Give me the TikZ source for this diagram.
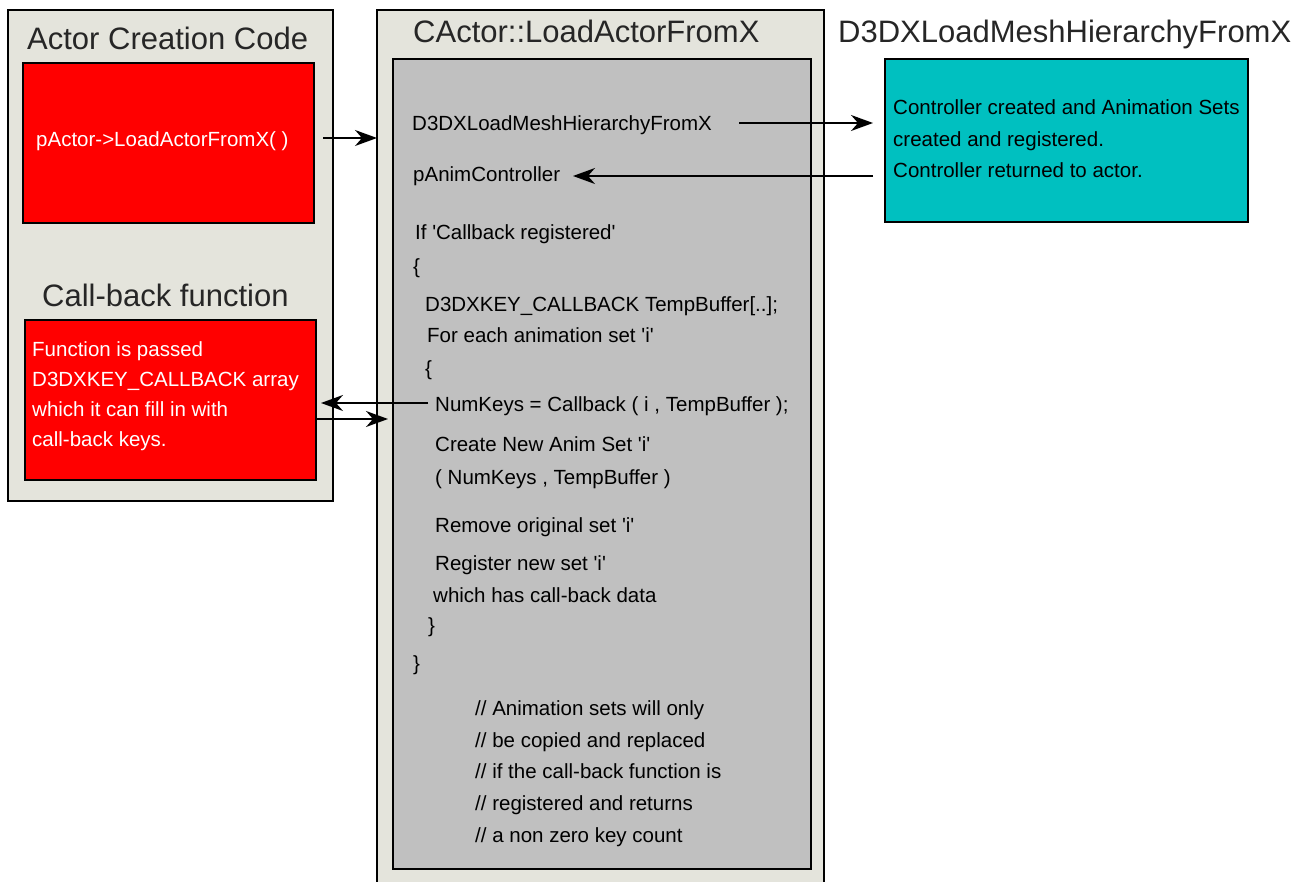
\documentclass[tikz,border=0pt]{standalone}
\usepackage{fontspec}
\setmainfont{Liberation Sans}
\usetikzlibrary{arrows.meta}
\definecolor{panel}{HTML}{E4E4DC}
\definecolor{innergray}{HTML}{C0C0C0}
\definecolor{redfill}{HTML}{FF0000}
\definecolor{cyanfill}{HTML}{00C0C0}
\newcommand\sq{\textquotesingle}
\tikzset{
  box/.style={draw=black, line width=1.4pt, anchor=north west, inner sep=0pt, outer sep=0pt},
  title/.style={anchor=base west, inner sep=0pt, font=\fontsize{31}{36}\selectfont, text=black!85},
  body/.style={anchor=base west, inner sep=0pt, font=\fontsize{20.5}{24}\selectfont, text=black},
  wtext/.style={body, text=white},
  arr/.style={line width=1.3pt, -{Stealth[length=22pt, width=16pt, inset=7pt]}},
}
\begin{document}
\begin{tikzpicture}[x=1pt, y=-1pt]
\useasboundingbox (0,0) rectangle (1307,882);
\clip (0,0) rectangle (1307,882);

% panels
\node[box, fill=panel, minimum width=325pt, minimum height=491pt] (left) at (8,10) {};
\node[box, fill=redfill, minimum width=291pt, minimum height=160pt] (red1) at (23,63) {};
\node[box, fill=redfill, minimum width=291pt, minimum height=160pt] (red2) at (25,320) {};
\node[box, fill=panel, minimum width=447pt, minimum height=900pt] (mid) at (377,10) {};
\node[box, fill=innergray, minimum width=418pt, minimum height=810pt] (inner) at (393,59) {};
\node[box, fill=cyanfill, minimum width=363pt, minimum height=163pt] (cyan) at (885,59) {};

% titles
\node[title] (t1) at (27,50) {Actor Creation Code};
\node[title] (t2) at (42,307) {Call-back function};
\node[title] (t3) at (413,43) {CActor::LoadActorFromX};
\node[title] (t4) at (838,43) {D3DXLoadMeshHierarchyFromX};

% red box texts
\node[wtext] (r1) at (36,147) {pActor->LoadActorFromX( )};
\node[wtext] (r2a) at (32,357) {Function is passed};
\node[wtext] (r2b) at (32,387) {D3DXKEY\_CALLBACK array};
\node[wtext] (r2c) at (32,417) {which it can fill in with};
\node[wtext] (r2d) at (32,447) {call-back keys.};

% cyan box text
\node[body] (c1) at (893,115) {Controller created and Animation Sets};
\node[body] (c2) at (893,147) {created and registered.};
\node[body] (c3) at (893,178) {Controller returned to actor.};

% code listing
\node[body] (l1) at (412,131) {D3DXLoadMeshHierarchyFromX};
\node[body] (l2) at (413,182) {pAnimController};
\node[body] (l3) at (415,240) {If \sq Callback registered\sq};
\node[body] (l4) at (413,274) {\{};
\node[body] (l5) at (425,312) {D3DXKEY\_CALLBACK TempBuffer[..];};
\node[body] (l6) at (427,343) {For each animation set \sq i\sq};
\node[body] (l7) at (425,376) {\{};
\node[body] (l8) at (435,412) {NumKeys = Callback ( i , TempBuffer );};
\node[body] (l9) at (435,452) {Create New Anim Set \sq i\sq};
\node[body] (l10) at (435,484) {( NumKeys , TempBuffer )};
\node[body] (l11) at (435,532) {Remove original set \sq i\sq};
\node[body] (l12) at (435,570) {Register new set \sq i\sq};
\node[body] (l13) at (433,602) {which has call-back data};
\node[body] (l14) at (428,632) {\}};
\node[body] (l15) at (413,670) {\}};
\node[body] (m1) at (475,715) {// Animation sets will only};
\node[body] (m2) at (475,747) {// be copied and replaced};
\node[body] (m3) at (475,778) {// if the call-back function is};
\node[body] (m4) at (475,810) {// registered and returns};
\node[body] (m5) at (475,842) {// a non zero key count};

% connectors
\coordinate (callstart) at (323,138);
\draw[arr] (callstart) -- (callstart -| mid.west);
\coordinate (meshout) at (739,123);
\draw[arr, shorten >=12pt] (meshout) -- (meshout -| cyan.west);
\coordinate (ctrlin) at (573,176);
\draw[arr, shorten <=12pt] (ctrlin -| cyan.west) -- (ctrlin);
\coordinate (cbout) at (428,403);
\draw[arr, shorten >=5pt] (cbout) -- (cbout -| red2.east);
\coordinate (cbback) at (388,419);
\draw[arr] (cbback -| red2.east) -- (cbback);
\end{tikzpicture}
\end{document}
